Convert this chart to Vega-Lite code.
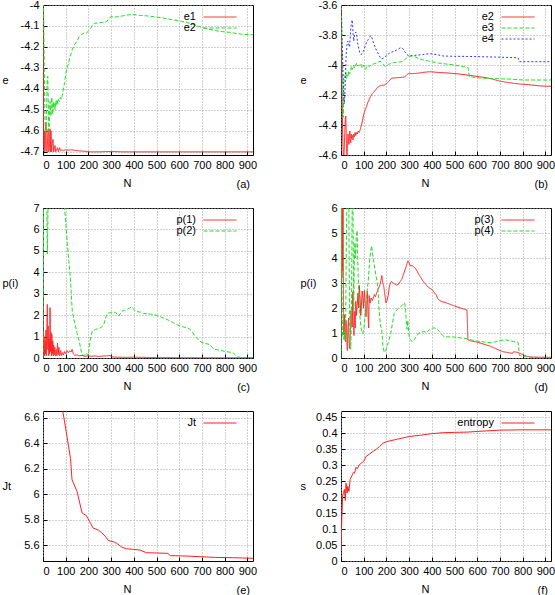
{
 "$schema": "https://vega.github.io/schema/vega-lite/v6.json",
 "padding": {"left": 1, "top": -2, "right": 0, "bottom": 0},
 "config": {
  "font": "Liberation Sans",
  "view": {"stroke": "#000", "strokeWidth": 1},
  "axis": {"labelFont": "Liberation Sans", "labelFontSize": 11, "labelColor": "#000", "titleFont": "Liberation Sans", "titleFontSize": 11, "titleFontWeight": "normal", "titleColor": "#000", "domain": false, "tickColor": "#000", "tickSize": -4, "labelPadding": 8, "grid": true, "gridColor": "#a0a0a0", "gridDash": [1, 2], "gridWidth": 1},
  "axisY": {"titleAngle": 0, "titleAlign": "left", "titleBaseline": "middle", "titleX": -41, "titleY": 75},
  "axisX": {"titleX": 84, "titleY": 28, "titleBaseline": "middle", "titleAlign": "center"},
  "legend": {"title": null, "orient": "top-right", "offset": 6, "labelFont": "Liberation Sans", "labelFontSize": 11, "labelColor": "#000", "symbolType": "M-4.45,0H1.55M3.0,0L3.0,0", "symbolSize": 121, "symbolStrokeWidth": 1, "labelAlign": "right", "labelOffset": -38, "rowPadding": 0, "padding": 0},
  "title": {"orient": "bottom", "anchor": "end", "frame": "group", "offset": -9, "fontSize": 11, "fontWeight": "normal", "font": "Liberation Sans", "color": "#000", "dx": -3}
 },
 "datasets": {
  "ee": [
   {"s":"e1","N":0,"v":-3.9},{"s":"e1","N":2,"v":-4.55},{"s":"e1","N":4,"v":-4.68},{"s":"e1","N":6,"v":-4.6},{"s":"e1","N":8,"v":-4.7},{"s":"e1","N":11,"v":-4.65},{"s":"e1","N":13,"v":-4.56},{"s":"e1","N":15,"v":-4.69},{"s":"e1","N":18,"v":-4.7},{"s":"e1","N":21,"v":-4.62},{"s":"e1","N":23,"v":-4.59},{"s":"e1","N":25,"v":-4.7},{"s":"e1","N":28,"v":-4.68},{"s":"e1","N":31,"v":-4.59},{"s":"e1","N":33,"v":-4.7},{"s":"e1","N":35,"v":-4.6},{"s":"e1","N":38,"v":-4.7},{"s":"e1","N":41,"v":-4.66},{"s":"e1","N":44,"v":-4.64},{"s":"e1","N":47,"v":-4.7},{"s":"e1","N":50,"v":-4.68},{"s":"e1","N":53,"v":-4.67},{"s":"e1","N":56,"v":-4.7},{"s":"e1","N":60,"v":-4.69},{"s":"e1","N":64,"v":-4.68},{"s":"e1","N":68,"v":-4.7},{"s":"e1","N":73,"v":-4.68},{"s":"e1","N":78,"v":-4.695},{"s":"e1","N":83,"v":-4.69},{"s":"e1","N":90,"v":-4.695},{"s":"e1","N":98,"v":-4.69},{"s":"e1","N":110,"v":-4.692},{"s":"e1","N":127,"v":-4.69},{"s":"e1","N":140,"v":-4.693},{"s":"e1","N":157,"v":-4.695},{"s":"e1","N":180,"v":-4.697},{"s":"e1","N":200,"v":-4.7},{"s":"e1","N":250,"v":-4.7},{"s":"e1","N":300,"v":-4.698},{"s":"e1","N":350,"v":-4.7},{"s":"e1","N":500,"v":-4.7},{"s":"e1","N":700,"v":-4.7},{"s":"e1","N":925,"v":-4.7},
   {"s":"e2","N":0,"v":-3.5},{"s":"e2","N":2,"v":-3.95},{"s":"e2","N":4,"v":-4.15},{"s":"e2","N":6,"v":-4.35},{"s":"e2","N":8,"v":-4.5},{"s":"e2","N":10,"v":-4.6},{"s":"e2","N":13,"v":-4.61},{"s":"e2","N":16,"v":-4.48},{"s":"e2","N":19,"v":-4.36},{"s":"e2","N":21,"v":-4.34},{"s":"e2","N":23,"v":-4.45},{"s":"e2","N":25,"v":-4.58},{"s":"e2","N":27,"v":-4.6},{"s":"e2","N":29,"v":-4.52},{"s":"e2","N":31,"v":-4.46},{"s":"e2","N":33,"v":-4.5},{"s":"e2","N":35,"v":-4.53},{"s":"e2","N":37,"v":-4.47},{"s":"e2","N":39,"v":-4.44},{"s":"e2","N":41,"v":-4.5},{"s":"e2","N":43,"v":-4.52},{"s":"e2","N":45,"v":-4.46},{"s":"e2","N":47,"v":-4.49},{"s":"e2","N":50,"v":-4.47},{"s":"e2","N":53,"v":-4.5},{"s":"e2","N":56,"v":-4.46},{"s":"e2","N":59,"v":-4.48},{"s":"e2","N":62,"v":-4.45},{"s":"e2","N":65,"v":-4.47},{"s":"e2","N":68,"v":-4.45},{"s":"e2","N":72,"v":-4.46},{"s":"e2","N":76,"v":-4.44},{"s":"e2","N":80,"v":-4.45},{"s":"e2","N":85,"v":-4.43},{"s":"e2","N":90,"v":-4.4},{"s":"e2","N":95,"v":-4.37},{"s":"e2","N":100,"v":-4.33},{"s":"e2","N":106,"v":-4.3},{"s":"e2","N":112,"v":-4.28},{"s":"e2","N":118,"v":-4.25},{"s":"e2","N":124,"v":-4.23},{"s":"e2","N":130,"v":-4.21},{"s":"e2","N":138,"v":-4.19},{"s":"e2","N":145,"v":-4.18},{"s":"e2","N":153,"v":-4.165},{"s":"e2","N":160,"v":-4.15},{"s":"e2","N":170,"v":-4.14},{"s":"e2","N":180,"v":-4.135},{"s":"e2","N":190,"v":-4.135},{"s":"e2","N":200,"v":-4.125},{"s":"e2","N":210,"v":-4.11},{"s":"e2","N":218,"v":-4.095},{"s":"e2","N":228,"v":-4.087},{"s":"e2","N":240,"v":-4.086},{"s":"e2","N":255,"v":-4.084},{"s":"e2","N":270,"v":-4.082},{"s":"e2","N":280,"v":-4.08},{"s":"e2","N":290,"v":-4.065},{"s":"e2","N":300,"v":-4.055},{"s":"e2","N":315,"v":-4.058},{"s":"e2","N":330,"v":-4.056},{"s":"e2","N":350,"v":-4.052},{"s":"e2","N":370,"v":-4.048},{"s":"e2","N":390,"v":-4.045},{"s":"e2","N":410,"v":-4.047},{"s":"e2","N":430,"v":-4.05},{"s":"e2","N":460,"v":-4.052},{"s":"e2","N":490,"v":-4.056},{"s":"e2","N":520,"v":-4.06},{"s":"e2","N":550,"v":-4.066},{"s":"e2","N":580,"v":-4.072},{"s":"e2","N":610,"v":-4.078},{"s":"e2","N":640,"v":-4.085},{"s":"e2","N":670,"v":-4.095},{"s":"e2","N":700,"v":-4.108},{"s":"e2","N":730,"v":-4.115},{"s":"e2","N":760,"v":-4.122},{"s":"e2","N":790,"v":-4.127},{"s":"e2","N":820,"v":-4.13},{"s":"e2","N":850,"v":-4.135},{"s":"e2","N":880,"v":-4.14},{"s":"e2","N":925,"v":-4.142},
   {"s":"e3","N":0,"v":-3.5},{"s":"e3","N":3,"v":-3.75},{"s":"e3","N":6,"v":-4.0},{"s":"e3","N":8,"v":-4.2},{"s":"e3","N":10,"v":-4.35},{"s":"e3","N":12,"v":-4.15},{"s":"e3","N":14,"v":-4.08},{"s":"e3","N":16,"v":-4.085},{"s":"e3","N":19,"v":-4.06},{"s":"e3","N":22,"v":-4.05},{"s":"e3","N":25,"v":-4.09},{"s":"e3","N":28,"v":-4.06},{"s":"e3","N":31,"v":-4.07},{"s":"e3","N":34,"v":-4.04},{"s":"e3","N":37,"v":-4.06},{"s":"e3","N":40,"v":-4.05},{"s":"e3","N":43,"v":-4.03},{"s":"e3","N":46,"v":-4.007},{"s":"e3","N":49,"v":-4.03},{"s":"e3","N":52,"v":-4.02},{"s":"e3","N":56,"v":-4.0},{"s":"e3","N":59,"v":-4.02},{"s":"e3","N":62,"v":-4.01},{"s":"e3","N":65,"v":-4.0},{"s":"e3","N":68,"v":-3.99},{"s":"e3","N":71,"v":-4.01},{"s":"e3","N":75,"v":-4.0},{"s":"e3","N":79,"v":-4.005},{"s":"e3","N":83,"v":-3.995},{"s":"e3","N":86,"v":-3.99},{"s":"e3","N":90,"v":-4.005},{"s":"e3","N":93,"v":-4.02},{"s":"e3","N":97,"v":-4.01},{"s":"e3","N":101,"v":-4.0},{"s":"e3","N":104,"v":-4.02},{"s":"e3","N":108,"v":-4.03},{"s":"e3","N":112,"v":-4.015},{"s":"e3","N":116,"v":-4.0},{"s":"e3","N":120,"v":-4.005},{"s":"e3","N":125,"v":-4.01},{"s":"e3","N":132,"v":-4.0},{"s":"e3","N":140,"v":-3.995},{"s":"e3","N":150,"v":-3.99},{"s":"e3","N":158,"v":-3.985},{"s":"e3","N":165,"v":-3.98},{"s":"e3","N":172,"v":-3.975},{"s":"e3","N":179,"v":-3.98},{"s":"e3","N":186,"v":-3.995},{"s":"e3","N":194,"v":-4.01},{"s":"e3","N":202,"v":-4.005},{"s":"e3","N":210,"v":-3.995},{"s":"e3","N":220,"v":-3.99},{"s":"e3","N":232,"v":-3.985},{"s":"e3","N":246,"v":-3.98},{"s":"e3","N":258,"v":-3.98},{"s":"e3","N":268,"v":-3.978},{"s":"e3","N":278,"v":-3.97},{"s":"e3","N":290,"v":-3.95},{"s":"e3","N":300,"v":-3.942},{"s":"e3","N":310,"v":-3.94},{"s":"e3","N":325,"v":-3.945},{"s":"e3","N":340,"v":-3.955},{"s":"e3","N":360,"v":-3.965},{"s":"e3","N":380,"v":-3.972},{"s":"e3","N":405,"v":-3.98},{"s":"e3","N":430,"v":-3.987},{"s":"e3","N":460,"v":-3.993},{"s":"e3","N":490,"v":-3.998},{"s":"e3","N":520,"v":-4.005},{"s":"e3","N":545,"v":-4.012},{"s":"e3","N":560,"v":-4.018},{"s":"e3","N":565,"v":-4.078},{"s":"e3","N":590,"v":-4.083},{"s":"e3","N":620,"v":-4.088},{"s":"e3","N":660,"v":-4.09},{"s":"e3","N":700,"v":-4.092},{"s":"e3","N":746,"v":-4.094},{"s":"e3","N":780,"v":-4.098},{"s":"e3","N":805,"v":-4.1},{"s":"e3","N":850,"v":-4.1},{"s":"e3","N":925,"v":-4.1},
   {"s":"e4","N":0,"v":-3.5},{"s":"e4","N":4,"v":-3.8},{"s":"e4","N":8,"v":-4.0},{"s":"e4","N":11,"v":-4.15},{"s":"e4","N":14,"v":-4.26},{"s":"e4","N":17,"v":-4.2},{"s":"e4","N":20,"v":-4.05},{"s":"e4","N":23,"v":-3.93},{"s":"e4","N":26,"v":-3.87},{"s":"e4","N":30,"v":-3.84},{"s":"e4","N":34,"v":-3.86},{"s":"e4","N":38,"v":-3.88},{"s":"e4","N":42,"v":-3.78},{"s":"e4","N":46,"v":-3.71},{"s":"e4","N":50,"v":-3.7},{"s":"e4","N":53,"v":-3.79},{"s":"e4","N":56,"v":-3.84},{"s":"e4","N":60,"v":-3.8},{"s":"e4","N":65,"v":-3.78},{"s":"e4","N":69,"v":-3.8},{"s":"e4","N":73,"v":-3.85},{"s":"e4","N":78,"v":-3.89},{"s":"e4","N":83,"v":-3.92},{"s":"e4","N":88,"v":-3.93},{"s":"e4","N":93,"v":-3.925},{"s":"e4","N":98,"v":-3.91},{"s":"e4","N":105,"v":-3.88},{"s":"e4","N":112,"v":-3.85},{"s":"e4","N":120,"v":-3.83},{"s":"e4","N":127,"v":-3.81},{"s":"e4","N":133,"v":-3.805},{"s":"e4","N":139,"v":-3.83},{"s":"e4","N":145,"v":-3.86},{"s":"e4","N":152,"v":-3.89},{"s":"e4","N":159,"v":-3.91},{"s":"e4","N":166,"v":-3.93},{"s":"e4","N":173,"v":-3.95},{"s":"e4","N":180,"v":-3.96},{"s":"e4","N":187,"v":-3.955},{"s":"e4","N":194,"v":-3.945},{"s":"e4","N":202,"v":-3.935},{"s":"e4","N":210,"v":-3.925},{"s":"e4","N":220,"v":-3.915},{"s":"e4","N":232,"v":-3.91},{"s":"e4","N":245,"v":-3.9},{"s":"e4","N":256,"v":-3.89},{"s":"e4","N":264,"v":-3.884},{"s":"e4","N":272,"v":-3.89},{"s":"e4","N":280,"v":-3.91},{"s":"e4","N":290,"v":-3.93},{"s":"e4","N":300,"v":-3.94},{"s":"e4","N":315,"v":-3.937},{"s":"e4","N":335,"v":-3.935},{"s":"e4","N":360,"v":-3.93},{"s":"e4","N":390,"v":-3.924},{"s":"e4","N":420,"v":-3.93},{"s":"e4","N":450,"v":-3.94},{"s":"e4","N":500,"v":-3.942},{"s":"e4","N":560,"v":-3.943},{"s":"e4","N":620,"v":-3.945},{"s":"e4","N":680,"v":-3.947},{"s":"e4","N":745,"v":-3.95},{"s":"e4","N":780,"v":-3.952},{"s":"e4","N":786,"v":-3.978},{"s":"e4","N":820,"v":-3.978},{"s":"e4","N":870,"v":-3.978},{"s":"e4","N":925,"v":-3.978}
  ],
  "pp": [
   {"s":"p(1)","N":0,"v":0},{"s":"p(1)","N":1,"v":1.2},{"s":"p(1)","N":3,"v":0.3},{"s":"p(1)","N":5,"v":1.0},{"s":"p(1)","N":7,"v":0.1},{"s":"p(1)","N":9,"v":0.8},{"s":"p(1)","N":11,"v":0.2},{"s":"p(1)","N":13,"v":1.3},{"s":"p(1)","N":15,"v":0.1},{"s":"p(1)","N":17,"v":1.6},{"s":"p(1)","N":19,"v":2.5},{"s":"p(1)","N":21,"v":0.4},{"s":"p(1)","N":23,"v":1.5},{"s":"p(1)","N":25,"v":0.1},{"s":"p(1)","N":27,"v":0.9},{"s":"p(1)","N":29,"v":0.2},{"s":"p(1)","N":31,"v":2.35},{"s":"p(1)","N":33,"v":0.3},{"s":"p(1)","N":35,"v":1.2},{"s":"p(1)","N":37,"v":0.1},{"s":"p(1)","N":39,"v":1.1},{"s":"p(1)","N":41,"v":0.2},{"s":"p(1)","N":43,"v":0.8},{"s":"p(1)","N":45,"v":0.1},{"s":"p(1)","N":47,"v":0.6},{"s":"p(1)","N":49,"v":0.15},{"s":"p(1)","N":52,"v":0.5},{"s":"p(1)","N":55,"v":0.1},{"s":"p(1)","N":58,"v":0.4},{"s":"p(1)","N":61,"v":0.1},{"s":"p(1)","N":64,"v":0.7},{"s":"p(1)","N":67,"v":0.15},{"s":"p(1)","N":70,"v":0.5},{"s":"p(1)","N":74,"v":0.1},{"s":"p(1)","N":78,"v":0.35},{"s":"p(1)","N":82,"v":0.12},{"s":"p(1)","N":86,"v":0.25},{"s":"p(1)","N":90,"v":0.15},{"s":"p(1)","N":95,"v":0.3},{"s":"p(1)","N":100,"v":0.2},{"s":"p(1)","N":106,"v":0.35},{"s":"p(1)","N":112,"v":0.25},{"s":"p(1)","N":118,"v":0.33},{"s":"p(1)","N":124,"v":0.28},{"s":"p(1)","N":128,"v":0.4},{"s":"p(1)","N":134,"v":0.18},{"s":"p(1)","N":140,"v":0.12},{"s":"p(1)","N":150,"v":0.15},{"s":"p(1)","N":160,"v":0.1},{"s":"p(1)","N":172,"v":0.12},{"s":"p(1)","N":185,"v":0.08},{"s":"p(1)","N":200,"v":0.1},{"s":"p(1)","N":215,"v":0.08},{"s":"p(1)","N":230,"v":0.1},{"s":"p(1)","N":245,"v":0.07},{"s":"p(1)","N":260,"v":0.09},{"s":"p(1)","N":280,"v":0.1},{"s":"p(1)","N":295,"v":0.12},{"s":"p(1)","N":305,"v":0.05},{"s":"p(1)","N":330,"v":0.04},{"s":"p(1)","N":360,"v":0.03},{"s":"p(1)","N":400,"v":0.035},{"s":"p(1)","N":450,"v":0.03},{"s":"p(1)","N":500,"v":0.02},{"s":"p(1)","N":600,"v":0.015},{"s":"p(1)","N":700,"v":0.01},{"s":"p(1)","N":800,"v":0.01},{"s":"p(1)","N":925,"v":0.01},
   {"s":"p(2)","N":0,"v":0},{"s":"p(2)","N":2,"v":5},{"s":"p(2)","N":3,"v":9},{"s":"p(2)","N":8,"v":10},{"s":"p(2)","N":14,"v":9},{"s":"p(2)","N":17,"v":7},{"s":"p(2)","N":19,"v":4.85},{"s":"p(2)","N":21,"v":6},{"s":"p(2)","N":23,"v":8},{"s":"p(2)","N":28,"v":10},{"s":"p(2)","N":40,"v":12},{"s":"p(2)","N":60,"v":12},{"s":"p(2)","N":80,"v":10},{"s":"p(2)","N":90,"v":7.8},{"s":"p(2)","N":95,"v":7.0},{"s":"p(2)","N":101,"v":6.2},{"s":"p(2)","N":107,"v":5.4},{"s":"p(2)","N":114,"v":4.5},{"s":"p(2)","N":121,"v":3.68},{"s":"p(2)","N":125,"v":2.9},{"s":"p(2)","N":129,"v":2.19},{"s":"p(2)","N":136,"v":1.8},{"s":"p(2)","N":143,"v":1.49},{"s":"p(2)","N":150,"v":1.15},{"s":"p(2)","N":158,"v":0.86},{"s":"p(2)","N":164,"v":0.55},{"s":"p(2)","N":170,"v":0.23},{"s":"p(2)","N":175,"v":0.15},{"s":"p(2)","N":180,"v":0.11},{"s":"p(2)","N":186,"v":0.15},{"s":"p(2)","N":192,"v":0.23},{"s":"p(2)","N":198,"v":0.1},{"s":"p(2)","N":202,"v":0.35},{"s":"p(2)","N":206,"v":0.7},{"s":"p(2)","N":211,"v":1.0},{"s":"p(2)","N":217,"v":1.25},{"s":"p(2)","N":224,"v":1.3},{"s":"p(2)","N":231,"v":1.33},{"s":"p(2)","N":242,"v":1.37},{"s":"p(2)","N":253,"v":1.41},{"s":"p(2)","N":262,"v":1.48},{"s":"p(2)","N":268,"v":1.56},{"s":"p(2)","N":274,"v":1.8},{"s":"p(2)","N":280,"v":2.0},{"s":"p(2)","N":287,"v":2.1},{"s":"p(2)","N":297,"v":2.11},{"s":"p(2)","N":308,"v":2.12},{"s":"p(2)","N":319,"v":2.14},{"s":"p(2)","N":326,"v":2.05},{"s":"p(2)","N":334,"v":1.96},{"s":"p(2)","N":341,"v":2.08},{"s":"p(2)","N":348,"v":2.19},{"s":"p(2)","N":359,"v":2.22},{"s":"p(2)","N":370,"v":2.27},{"s":"p(2)","N":380,"v":2.32},{"s":"p(2)","N":389,"v":2.38},{"s":"p(2)","N":398,"v":2.3},{"s":"p(2)","N":407,"v":2.19},{"s":"p(2)","N":418,"v":2.16},{"s":"p(2)","N":429,"v":2.14},{"s":"p(2)","N":443,"v":2.08},{"s":"p(2)","N":458,"v":2.07},{"s":"p(2)","N":472,"v":2.05},{"s":"p(2)","N":487,"v":2.03},{"s":"p(2)","N":502,"v":1.98},{"s":"p(2)","N":517,"v":1.92},{"s":"p(2)","N":531,"v":1.86},{"s":"p(2)","N":546,"v":1.8},{"s":"p(2)","N":560,"v":1.72},{"s":"p(2)","N":575,"v":1.64},{"s":"p(2)","N":590,"v":1.55},{"s":"p(2)","N":604,"v":1.49},{"s":"p(2)","N":619,"v":1.45},{"s":"p(2)","N":634,"v":1.41},{"s":"p(2)","N":645,"v":1.35},{"s":"p(2)","N":656,"v":1.25},{"s":"p(2)","N":668,"v":1.05},{"s":"p(2)","N":680,"v":0.9},{"s":"p(2)","N":685,"v":0.83},{"s":"p(2)","N":696,"v":0.75},{"s":"p(2)","N":707,"v":0.7},{"s":"p(2)","N":722,"v":0.66},{"s":"p(2)","N":736,"v":0.63},{"s":"p(2)","N":745,"v":0.5},{"s":"p(2)","N":751,"v":0.42},{"s":"p(2)","N":765,"v":0.39},{"s":"p(2)","N":780,"v":0.36},{"s":"p(2)","N":800,"v":0.31},{"s":"p(2)","N":824,"v":0.27},{"s":"p(2)","N":839,"v":0.23},{"s":"p(2)","N":848,"v":0.12},{"s":"p(2)","N":856,"v":0.05},{"s":"p(2)","N":870,"v":0.03},{"s":"p(2)","N":897,"v":0.02},{"s":"p(2)","N":925,"v":0.02},
   {"s":"p(3)","N":0,"v":6.5},{"s":"p(3)","N":2,"v":8},{"s":"p(3)","N":4,"v":3.2},{"s":"p(3)","N":5,"v":7},{"s":"p(3)","N":7,"v":3.5},{"s":"p(3)","N":9,"v":8},{"s":"p(3)","N":11,"v":2.5},{"s":"p(3)","N":12,"v":0.92},{"s":"p(3)","N":14,"v":1.4},{"s":"p(3)","N":16,"v":1.73},{"s":"p(3)","N":18,"v":0.8},{"s":"p(3)","N":20,"v":0.65},{"s":"p(3)","N":22,"v":1.5},{"s":"p(3)","N":24,"v":1.24},{"s":"p(3)","N":26,"v":0.6},{"s":"p(3)","N":28,"v":0.3},{"s":"p(3)","N":30,"v":1.1},{"s":"p(3)","N":33,"v":1.6},{"s":"p(3)","N":35,"v":0.7},{"s":"p(3)","N":38,"v":0.38},{"s":"p(3)","N":41,"v":1.0},{"s":"p(3)","N":44,"v":1.9},{"s":"p(3)","N":47,"v":1.3},{"s":"p(3)","N":50,"v":1.24},{"s":"p(3)","N":52,"v":2.65},{"s":"p(3)","N":54,"v":1.5},{"s":"p(3)","N":57,"v":0.9},{"s":"p(3)","N":60,"v":1.86},{"s":"p(3)","N":63,"v":1.2},{"s":"p(3)","N":65,"v":2.27},{"s":"p(3)","N":68,"v":1.7},{"s":"p(3)","N":72,"v":2.2},{"s":"p(3)","N":75,"v":2.6},{"s":"p(3)","N":78,"v":2.0},{"s":"p(3)","N":81,"v":2.9},{"s":"p(3)","N":84,"v":2.4},{"s":"p(3)","N":87,"v":1.7},{"s":"p(3)","N":90,"v":2.1},{"s":"p(3)","N":93,"v":2.68},{"s":"p(3)","N":96,"v":2.5},{"s":"p(3)","N":99,"v":2.0},{"s":"p(3)","N":103,"v":2.7},{"s":"p(3)","N":107,"v":2.14},{"s":"p(3)","N":110,"v":1.65},{"s":"p(3)","N":113,"v":2.0},{"s":"p(3)","N":116,"v":2.68},{"s":"p(3)","N":120,"v":1.5},{"s":"p(3)","N":122,"v":1.2},{"s":"p(3)","N":124,"v":2.5},{"s":"p(3)","N":128,"v":2.2},{"s":"p(3)","N":133,"v":2.4},{"s":"p(3)","N":138,"v":2.3},{"s":"p(3)","N":142,"v":2.4},{"s":"p(3)","N":147,"v":2.54},{"s":"p(3)","N":152,"v":2.45},{"s":"p(3)","N":157,"v":2.6},{"s":"p(3)","N":163,"v":2.74},{"s":"p(3)","N":168,"v":2.85},{"s":"p(3)","N":172,"v":2.95},{"s":"p(3)","N":176,"v":3.1},{"s":"p(3)","N":180,"v":3.3},{"s":"p(3)","N":184,"v":3.0},{"s":"p(3)","N":188,"v":2.9},{"s":"p(3)","N":192,"v":2.6},{"s":"p(3)","N":198,"v":2.2},{"s":"p(3)","N":203,"v":2.3},{"s":"p(3)","N":208,"v":2.5},{"s":"p(3)","N":212,"v":2.8},{"s":"p(3)","N":216,"v":2.95},{"s":"p(3)","N":220,"v":3.05},{"s":"p(3)","N":224,"v":3.05},{"s":"p(3)","N":230,"v":3.0},{"s":"p(3)","N":238,"v":2.95},{"s":"p(3)","N":245,"v":2.92},{"s":"p(3)","N":253,"v":2.95},{"s":"p(3)","N":260,"v":3.05},{"s":"p(3)","N":268,"v":3.15},{"s":"p(3)","N":275,"v":3.35},{"s":"p(3)","N":283,"v":3.55},{"s":"p(3)","N":290,"v":3.75},{"s":"p(3)","N":295,"v":3.89},{"s":"p(3)","N":300,"v":3.8},{"s":"p(3)","N":305,"v":3.69},{"s":"p(3)","N":312,"v":3.7},{"s":"p(3)","N":320,"v":3.65},{"s":"p(3)","N":327,"v":3.6},{"s":"p(3)","N":335,"v":3.48},{"s":"p(3)","N":342,"v":3.35},{"s":"p(3)","N":350,"v":3.25},{"s":"p(3)","N":361,"v":3.08},{"s":"p(3)","N":370,"v":2.98},{"s":"p(3)","N":379,"v":2.88},{"s":"p(3)","N":390,"v":2.8},{"s":"p(3)","N":401,"v":2.74},{"s":"p(3)","N":412,"v":2.6},{"s":"p(3)","N":419,"v":2.53},{"s":"p(3)","N":425,"v":2.4},{"s":"p(3)","N":434,"v":2.3},{"s":"p(3)","N":446,"v":2.25},{"s":"p(3)","N":460,"v":2.22},{"s":"p(3)","N":480,"v":2.15},{"s":"p(3)","N":500,"v":2.08},{"s":"p(3)","N":520,"v":2.02},{"s":"p(3)","N":540,"v":1.96},{"s":"p(3)","N":555,"v":1.92},{"s":"p(3)","N":559,"v":0.72},{"s":"p(3)","N":575,"v":0.68},{"s":"p(3)","N":597,"v":0.64},{"s":"p(3)","N":620,"v":0.58},{"s":"p(3)","N":640,"v":0.52},{"s":"p(3)","N":656,"v":0.48},{"s":"p(3)","N":680,"v":0.38},{"s":"p(3)","N":700,"v":0.3},{"s":"p(3)","N":715,"v":0.25},{"s":"p(3)","N":740,"v":0.21},{"s":"p(3)","N":755,"v":0.18},{"s":"p(3)","N":760,"v":0.25},{"s":"p(3)","N":775,"v":0.23},{"s":"p(3)","N":790,"v":0.18},{"s":"p(3)","N":805,"v":0.12},{"s":"p(3)","N":820,"v":0.06},{"s":"p(3)","N":840,"v":0.04},{"s":"p(3)","N":878,"v":0.03},{"s":"p(3)","N":925,"v":0.03},
   {"s":"p(4)","N":0,"v":0},{"s":"p(4)","N":2,"v":7},{"s":"p(4)","N":4,"v":3.0},{"s":"p(4)","N":6,"v":0.9},{"s":"p(4)","N":9,"v":1.05},{"s":"p(4)","N":12,"v":0.8},{"s":"p(4)","N":14,"v":0.7},{"s":"p(4)","N":16,"v":1.0},{"s":"p(4)","N":19,"v":0.7},{"s":"p(4)","N":21,"v":2.0},{"s":"p(4)","N":24,"v":5.0},{"s":"p(4)","N":27,"v":7},{"s":"p(4)","N":31,"v":8},{"s":"p(4)","N":34,"v":7},{"s":"p(4)","N":37,"v":2.5},{"s":"p(4)","N":40,"v":0.5},{"s":"p(4)","N":43,"v":0.35},{"s":"p(4)","N":46,"v":1.5},{"s":"p(4)","N":49,"v":5.8},{"s":"p(4)","N":52,"v":7},{"s":"p(4)","N":54,"v":4.35},{"s":"p(4)","N":56,"v":1.9},{"s":"p(4)","N":58,"v":3.5},{"s":"p(4)","N":61,"v":4.6},{"s":"p(4)","N":64,"v":4.0},{"s":"p(4)","N":67,"v":4.8},{"s":"p(4)","N":71,"v":5.1},{"s":"p(4)","N":75,"v":3.49},{"s":"p(4)","N":80,"v":2.14},{"s":"p(4)","N":84,"v":1.6},{"s":"p(4)","N":87,"v":1.3},{"s":"p(4)","N":91,"v":1.1},{"s":"p(4)","N":96,"v":0.97},{"s":"p(4)","N":101,"v":1.2},{"s":"p(4)","N":105,"v":1.6},{"s":"p(4)","N":108,"v":2.05},{"s":"p(4)","N":114,"v":2.6},{"s":"p(4)","N":120,"v":3.1},{"s":"p(4)","N":127,"v":4.0},{"s":"p(4)","N":131,"v":4.3},{"s":"p(4)","N":135,"v":4.49},{"s":"p(4)","N":140,"v":4.1},{"s":"p(4)","N":145,"v":3.8},{"s":"p(4)","N":152,"v":3.4},{"s":"p(4)","N":160,"v":3.0},{"s":"p(4)","N":164,"v":2.6},{"s":"p(4)","N":167,"v":2.05},{"s":"p(4)","N":171,"v":1.6},{"s":"p(4)","N":175,"v":1.24},{"s":"p(4)","N":179,"v":1.2},{"s":"p(4)","N":182,"v":0.8},{"s":"p(4)","N":185,"v":0.43},{"s":"p(4)","N":190,"v":0.25},{"s":"p(4)","N":194,"v":0.23},{"s":"p(4)","N":199,"v":0.35},{"s":"p(4)","N":204,"v":0.5},{"s":"p(4)","N":212,"v":0.75},{"s":"p(4)","N":219,"v":0.97},{"s":"p(4)","N":226,"v":1.35},{"s":"p(4)","N":234,"v":1.78},{"s":"p(4)","N":243,"v":1.9},{"s":"p(4)","N":253,"v":1.99},{"s":"p(4)","N":262,"v":2.05},{"s":"p(4)","N":271,"v":2.12},{"s":"p(4)","N":276,"v":2.2},{"s":"p(4)","N":281,"v":2.19},{"s":"p(4)","N":285,"v":1.85},{"s":"p(4)","N":288,"v":1.4},{"s":"p(4)","N":291,"v":1.15},{"s":"p(4)","N":294,"v":1.5},{"s":"p(4)","N":297,"v":1.2},{"s":"p(4)","N":301,"v":0.79},{"s":"p(4)","N":307,"v":0.72},{"s":"p(4)","N":313,"v":0.65},{"s":"p(4)","N":320,"v":0.7},{"s":"p(4)","N":327,"v":0.79},{"s":"p(4)","N":335,"v":0.9},{"s":"p(4)","N":342,"v":0.99},{"s":"p(4)","N":352,"v":1.02},{"s":"p(4)","N":365,"v":1.06},{"s":"p(4)","N":379,"v":1.02},{"s":"p(4)","N":390,"v":1.15},{"s":"p(4)","N":401,"v":1.2},{"s":"p(4)","N":412,"v":1.2},{"s":"p(4)","N":424,"v":1.15},{"s":"p(4)","N":435,"v":1.05},{"s":"p(4)","N":446,"v":0.92},{"s":"p(4)","N":455,"v":0.85},{"s":"p(4)","N":470,"v":0.85},{"s":"p(4)","N":490,"v":0.84},{"s":"p(4)","N":508,"v":0.84},{"s":"p(4)","N":530,"v":0.8},{"s":"p(4)","N":552,"v":0.77},{"s":"p(4)","N":575,"v":0.72},{"s":"p(4)","N":597,"v":0.68},{"s":"p(4)","N":620,"v":0.65},{"s":"p(4)","N":656,"v":0.61},{"s":"p(4)","N":680,"v":0.65},{"s":"p(4)","N":700,"v":0.7},{"s":"p(4)","N":730,"v":0.72},{"s":"p(4)","N":759,"v":0.66},{"s":"p(4)","N":780,"v":0.63},{"s":"p(4)","N":786,"v":0.1},{"s":"p(4)","N":810,"v":0.06},{"s":"p(4)","N":833,"v":0.03},{"s":"p(4)","N":870,"v":0.01},{"s":"p(4)","N":925,"v":0.01}
  ],
  "jt": [
   {"s":"Jt","N":40,"v":8.5},{"s":"Jt","N":60,"v":7.3},{"s":"Jt","N":80,"v":6.8},{"s":"Jt","N":87,"v":6.652},{"s":"Jt","N":106,"v":6.449},{"s":"Jt","N":121,"v":6.28},{"s":"Jt","N":128,"v":6.112},{"s":"Jt","N":150,"v":6.021},{"s":"Jt","N":172,"v":5.852},{"s":"Jt","N":191,"v":5.831},{"s":"Jt","N":205,"v":5.787},{"s":"Jt","N":220,"v":5.735},{"s":"Jt","N":245,"v":5.717},{"s":"Jt","N":259,"v":5.696},{"s":"Jt","N":274,"v":5.67},{"s":"Jt","N":288,"v":5.636},{"s":"Jt","N":310,"v":5.626},{"s":"Jt","N":325,"v":5.613},{"s":"Jt","N":347,"v":5.584},{"s":"Jt","N":368,"v":5.571},{"s":"Jt","N":400,"v":5.566},{"s":"Jt","N":427,"v":5.561},{"s":"Jt","N":456,"v":5.54},{"s":"Jt","N":500,"v":5.538},{"s":"Jt","N":550,"v":5.535},{"s":"Jt","N":561,"v":5.517},{"s":"Jt","N":631,"v":5.514},{"s":"Jt","N":700,"v":5.508},{"s":"Jt","N":760,"v":5.503},{"s":"Jt","N":834,"v":5.501},{"s":"Jt","N":925,"v":5.496}
  ],
  "ss": [
   {"s":"entropy","N":0,"v":0.031},{"s":"entropy","N":3,"v":0.12},{"s":"entropy","N":7,"v":0.203},{"s":"entropy","N":11,"v":0.215},{"s":"entropy","N":15,"v":0.224},{"s":"entropy","N":19,"v":0.19},{"s":"entropy","N":22,"v":0.244},{"s":"entropy","N":27,"v":0.213},{"s":"entropy","N":30,"v":0.234},{"s":"entropy","N":35,"v":0.218},{"s":"entropy","N":40,"v":0.255},{"s":"entropy","N":45,"v":0.263},{"s":"entropy","N":50,"v":0.27},{"s":"entropy","N":55,"v":0.278},{"s":"entropy","N":60,"v":0.275},{"s":"entropy","N":66,"v":0.294},{"s":"entropy","N":72,"v":0.289},{"s":"entropy","N":80,"v":0.301},{"s":"entropy","N":90,"v":0.307},{"s":"entropy","N":100,"v":0.312},{"s":"entropy","N":110,"v":0.327},{"s":"entropy","N":125,"v":0.335},{"s":"entropy","N":140,"v":0.343},{"s":"entropy","N":155,"v":0.35},{"s":"entropy","N":170,"v":0.359},{"s":"entropy","N":185,"v":0.369},{"s":"entropy","N":200,"v":0.374},{"s":"entropy","N":220,"v":0.377},{"s":"entropy","N":250,"v":0.382},{"s":"entropy","N":300,"v":0.39},{"s":"entropy","N":350,"v":0.394},{"s":"entropy","N":400,"v":0.399},{"s":"entropy","N":450,"v":0.402},{"s":"entropy","N":500,"v":0.403},{"s":"entropy","N":560,"v":0.404},{"s":"entropy","N":600,"v":0.406},{"s":"entropy","N":700,"v":0.41},{"s":"entropy","N":800,"v":0.411},{"s":"entropy","N":925,"v":0.411}
  ]
 },
 "columns": 2,
 "spacing": {"row": 53, "column": 88},
 "bounds": "flush",
 "resolve": {"scale": {"color": "independent", "strokeDash": "independent", "x": "independent", "y": "independent"}, "legend": {"color": "independent", "strokeDash": "independent"}},
 "concat": [
  {
   "width": 210, "height": 150,
   "title": {"text": "(a)"},
   "data": {"name": "ee"},
   "transform": [{"filter": {"field": "s", "oneOf": ["e1", "e2"]}}],
   "mark": {"type": "line", "clip": true, "strokeWidth": 1},
   "encoding": {
    "x": {"field": "N", "type": "quantitative", "scale": {"domain": [0, 925], "nice": false, "zero": false}, "axis": {"title": "N", "values": [0,100,200,300,400,500,600,700,800,900]}},
    "y": {"field": "v", "type": "quantitative", "scale": {"domain": [-4.715, -4], "nice": false, "zero": false}, "axis": {"title": "e", "values": [-4.7,-4.6,-4.5,-4.4,-4.3,-4.2,-4.1,-4], "labelExpr": "toString(datum.value)"}},
    "color": {"field": "s", "type": "nominal", "scale": {"domain": ["e1", "e2"], "range": ["#ff2020", "#22dd22"]}},
    "strokeDash": {"field": "s", "type": "nominal", "scale": {"domain": ["e1", "e2"], "range": [[1, 0], [4, 2]]}}
   }
  },
  {
   "width": 210, "height": 150,
   "title": {"text": "(b)"},
   "data": {"name": "ee"},
   "transform": [{"filter": {"field": "s", "oneOf": ["e2", "e3", "e4"]}}],
   "mark": {"type": "line", "clip": true, "strokeWidth": 1},
   "encoding": {
    "x": {"field": "N", "type": "quantitative", "scale": {"domain": [0, 925], "nice": false, "zero": false}, "axis": {"title": "N", "values": [0,100,200,300,400,500,600,700,800,900]}},
    "y": {"field": "v", "type": "quantitative", "scale": {"domain": [-4.6, -3.6], "nice": false, "zero": false}, "axis": {"title": "e", "values": [-4.6,-4.4,-4.2,-4,-3.8,-3.6], "labelExpr": "toString(datum.value)"}},
    "color": {"field": "s", "type": "nominal", "scale": {"domain": ["e2", "e3", "e4"], "range": ["#ff2020", "#22dd22", "#3333ff"]}},
    "strokeDash": {"field": "s", "type": "nominal", "scale": {"domain": ["e2", "e3", "e4"], "range": [[1, 0], [4, 2], [2, 2]]}}
   }
  },
  {
   "width": 210, "height": 150,
   "title": {"text": "(c)"},
   "data": {"name": "pp"},
   "transform": [{"filter": {"field": "s", "oneOf": ["p(1)", "p(2)"]}}],
   "mark": {"type": "line", "clip": true, "strokeWidth": 1},
   "encoding": {
    "x": {"field": "N", "type": "quantitative", "scale": {"domain": [0, 925], "nice": false, "zero": false}, "axis": {"title": "N", "values": [0,100,200,300,400,500,600,700,800,900]}},
    "y": {"field": "v", "type": "quantitative", "scale": {"domain": [0, 7], "nice": false}, "axis": {"title": "p(i)", "values": [0,1,2,3,4,5,6,7]}},
    "color": {"field": "s", "type": "nominal", "scale": {"domain": ["p(1)", "p(2)"], "range": ["#ff2020", "#22dd22"]}},
    "strokeDash": {"field": "s", "type": "nominal", "scale": {"domain": ["p(1)", "p(2)"], "range": [[1, 0], [4, 2]]}}
   }
  },
  {
   "width": 210, "height": 150,
   "title": {"text": "(d)"},
   "data": {"name": "pp"},
   "transform": [{"filter": {"field": "s", "oneOf": ["p(3)", "p(4)"]}}],
   "mark": {"type": "line", "clip": true, "strokeWidth": 1},
   "encoding": {
    "x": {"field": "N", "type": "quantitative", "scale": {"domain": [0, 925], "nice": false, "zero": false}, "axis": {"title": "N", "values": [0,100,200,300,400,500,600,700,800,900]}},
    "y": {"field": "v", "type": "quantitative", "scale": {"domain": [0, 6], "nice": false}, "axis": {"title": "p(i)", "values": [0,1,2,3,4,5,6]}},
    "color": {"field": "s", "type": "nominal", "scale": {"domain": ["p(3)", "p(4)"], "range": ["#ff2020", "#22dd22"]}},
    "strokeDash": {"field": "s", "type": "nominal", "scale": {"domain": ["p(3)", "p(4)"], "range": [[1, 0], [4, 2]]}}
   }
  },
  {
   "width": 210, "height": 150,
   "title": {"text": "(e)"},
   "data": {"name": "jt"},
   "mark": {"type": "line", "clip": true, "strokeWidth": 1},
   "encoding": {
    "x": {"field": "N", "type": "quantitative", "scale": {"domain": [0, 925], "nice": false, "zero": false}, "axis": {"title": "N", "values": [0,100,200,300,400,500,600,700,800,900]}},
    "y": {"field": "v", "type": "quantitative", "scale": {"domain": [5.475, 6.652], "nice": false, "zero": false}, "axis": {"title": "Jt", "values": [5.6,5.8,6,6.2,6.4,6.6], "labelExpr": "toString(datum.value)"}},
    "color": {"field": "s", "type": "nominal", "scale": {"domain": ["Jt"], "range": ["#ff2020"]}}
   }
  },
  {
   "width": 210, "height": 150,
   "title": {"text": "(f)"},
   "data": {"name": "ss"},
   "mark": {"type": "line", "clip": true, "strokeWidth": 1},
   "encoding": {
    "x": {"field": "N", "type": "quantitative", "scale": {"domain": [0, 925], "nice": false, "zero": false}, "axis": {"title": "N", "values": [0,100,200,300,400,500,600,700,800,900]}},
    "y": {"field": "v", "type": "quantitative", "scale": {"domain": [0, 0.47], "nice": false}, "axis": {"title": "s", "values": [0,0.05,0.1,0.15,0.2,0.25,0.3,0.35,0.4,0.45], "labelExpr": "toString(datum.value)"}},
    "color": {"field": "s", "type": "nominal", "scale": {"domain": ["entropy"], "range": ["#ff2020"]}}
   }
  }
 ]
}
